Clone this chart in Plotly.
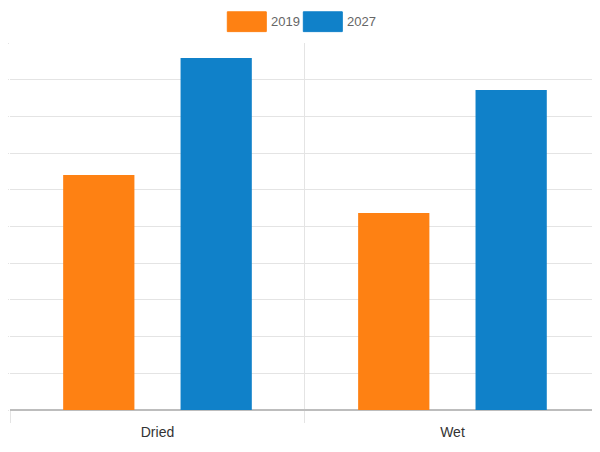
import plotly.graph_objects as go

categories = ["Dried", "Wet"]
series_names = ["2019", "2027"]
values_2019 = [64.0, 53.7]
values_2027 = [95.9, 87.2]
colors = ["#fe8113", "#1081c9"]

grid = "#e4e4e4"
font_narrow = "Liberation Sans, Arial, sans-serif"

fig = go.Figure()
for name, vals, col in zip(series_names, [values_2019, values_2027], colors):
    fig.add_trace(go.Bar(x=categories, y=vals, name=name,
                         marker=dict(color=col, line=dict(width=0))))

# legend drawn as wide colour boxes like the original
box_left = [0.3702, 0.4997]
shapes = []
annotations = []
for name, col, x0 in zip(series_names, colors, box_left):
    shapes.append(dict(type="rect", xref="paper", yref="paper",
                       x0=x0, x1=x0 + 0.0664, y0=1.031, y1=1.085,
                       fillcolor=col, line=dict(width=1, color=col)))
    annotations.append(dict(text=name, xref="paper", yref="paper",
                            x=x0 + 0.0705, y=1.058, xanchor="left", yanchor="middle",
                            showarrow=False,
                            font=dict(family=font_narrow, size=13, color="#666666")))

# page body has an 8px margin, so the figure is a bit smaller and shifted
fig.update_layout(
    width=592, height=444,
    margin=dict(l=2, r=3, t=35, b=42, autoexpand=False),
    plot_bgcolor="white", paper_bgcolor="white",
    barmode="group", bargap=0.204, bargroupgap=0.393,
    showlegend=False,
    shapes=shapes, annotations=annotations,
    xaxis=dict(type="category", tickson="boundaries", range=[-0.5, 1.49],
               showgrid=True, gridcolor=grid, gridwidth=1,
               ticks="outside", ticklen=12, tickcolor=grid,
               ticklabelstandoff=12,
               tickfont=dict(family=font_narrow, size=14, color="#333333"),
               showline=False, zeroline=False, automargin=False),
    yaxis=dict(range=[0, 100], dtick=10, showticklabels=False,
               showgrid=True, gridcolor=grid, gridwidth=1,
               ticks="outside", ticklen=10, tickcolor=grid,
               zeroline=True, zerolinecolor="#bdbdbd", zerolinewidth=2,
               showline=False, automargin=False),
)

fig.write_html("out.html")
